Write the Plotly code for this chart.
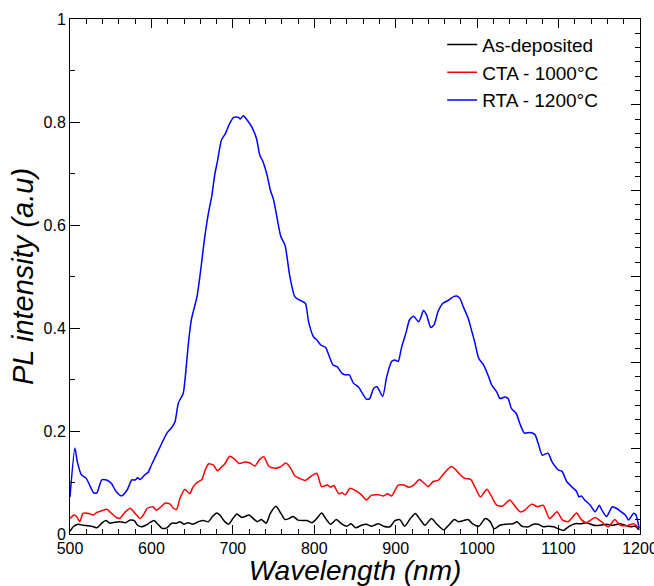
import plotly.graph_objects as go

# RTA - 1200°C (blue)
rta_wl = [500, 506, 509, 514, 520, 529, 533, 539, 545, 551, 556, 563, 570, 576, 580, 583, 586, 592, 596, 600,
          610, 619, 625, 629, 633, 639, 642, 645, 649, 656, 660, 665, 670, 674, 678, 681, 686, 691, 696, 701,
          707, 709, 713, 717, 723, 729, 733, 737, 742, 746, 750, 754, 759, 764, 770, 776, 782, 789, 793, 799,
          803, 808, 814, 817, 823, 828, 834, 838, 843, 848, 854, 858, 864, 868, 873, 877, 884, 889, 895, 899,
          903, 907, 913, 917, 922, 928, 931, 934, 938, 943, 947, 952, 958, 965, 971, 975, 979, 983, 989, 993,
          997, 1002, 1008, 1014, 1018, 1024, 1028, 1034, 1038, 1042, 1048, 1053, 1058, 1065, 1071, 1075, 1080,
          1087, 1092, 1100, 1104, 1110, 1116, 1122, 1125, 1128, 1132, 1139, 1145, 1150, 1153, 1159, 1166, 1171,
          1177, 1182, 1186, 1192, 1195, 1199]
rta_val = [0.072, 0.167, 0.140, 0.115, 0.108, 0.080, 0.080, 0.105, 0.105, 0.098, 0.084, 0.074, 0.085, 0.105, 0.105,
           0.109, 0.106, 0.115, 0.120, 0.134, 0.167, 0.196, 0.207, 0.218, 0.254, 0.273, 0.312, 0.364, 0.416, 0.461,
           0.506, 0.571, 0.623, 0.655, 0.700, 0.723, 0.765, 0.778, 0.797, 0.809, 0.809, 0.806, 0.812, 0.805, 0.791,
           0.768, 0.736, 0.723, 0.697, 0.668, 0.649, 0.616, 0.577, 0.561, 0.500, 0.461, 0.454, 0.448, 0.412, 0.383,
           0.377, 0.367, 0.362, 0.351, 0.328, 0.325, 0.312, 0.309, 0.309, 0.293, 0.286, 0.276, 0.262, 0.263, 0.283,
           0.286, 0.267, 0.306, 0.335, 0.338, 0.335, 0.361, 0.393, 0.416, 0.423, 0.412, 0.421, 0.434, 0.425, 0.401,
           0.406, 0.432, 0.448, 0.454, 0.461, 0.462, 0.457, 0.441, 0.419, 0.396, 0.373, 0.341, 0.328, 0.306, 0.289,
           0.276, 0.263, 0.266, 0.263, 0.244, 0.234, 0.212, 0.196, 0.197, 0.193, 0.176, 0.153, 0.157, 0.140, 0.124,
           0.122, 0.102, 0.092, 0.083, 0.072, 0.074, 0.066, 0.056, 0.043, 0.056, 0.047, 0.034, 0.053, 0.050, 0.043,
           0.037, 0.027, 0.040, 0.037, 0.011]

# CTA - 1000°C (red)
cta_wl = [500, 505, 508, 512, 516, 523, 529, 533, 539, 545, 551, 557, 561, 568, 574, 580, 586, 590, 595, 602,
          606, 611, 617, 623, 627, 631, 635, 641, 647, 651, 656, 662, 666, 670, 676, 681, 686, 690, 696, 701,
          708, 715, 721, 727, 733, 738, 744, 750, 758, 765, 771, 776, 782, 789, 795, 803, 809, 816, 820, 824,
          830, 834, 838, 844, 852, 858, 864, 870, 879, 885, 890, 895, 903, 910, 916, 922, 929, 934, 940, 946,
          952, 959, 968, 973, 979, 985, 992, 998, 1004, 1012, 1018, 1024, 1031, 1040, 1047, 1053, 1059, 1067,
          1074, 1081, 1089, 1098, 1105, 1112, 1122, 1128, 1134, 1145, 1151, 1161, 1169, 1175, 1184, 1192, 1199]
cta_val = [0.030, 0.037, 0.034, 0.024, 0.040, 0.040, 0.037, 0.042, 0.045, 0.048, 0.040, 0.032, 0.030, 0.043, 0.050,
           0.040, 0.030, 0.037, 0.050, 0.053, 0.046, 0.052, 0.060, 0.058, 0.050, 0.048, 0.069, 0.087, 0.078, 0.091,
           0.100, 0.106, 0.124, 0.136, 0.134, 0.123, 0.130, 0.136, 0.151, 0.147, 0.137, 0.140, 0.138, 0.132, 0.145,
           0.150, 0.132, 0.128, 0.130, 0.138, 0.128, 0.113, 0.108, 0.104, 0.111, 0.118, 0.092, 0.095, 0.091, 0.094,
           0.078, 0.080, 0.076, 0.089, 0.083, 0.076, 0.066, 0.075, 0.076, 0.074, 0.078, 0.074, 0.095, 0.095, 0.091,
           0.095, 0.106, 0.100, 0.092, 0.102, 0.104, 0.117, 0.131, 0.126, 0.115, 0.108, 0.106, 0.089, 0.072, 0.087,
           0.072, 0.056, 0.054, 0.066, 0.053, 0.043, 0.047, 0.058, 0.053, 0.056, 0.030, 0.043, 0.027, 0.024, 0.041,
           0.028, 0.022, 0.032, 0.026, 0.014, 0.028, 0.018, 0.016, 0.020, 0.011]

# As-deposited (black)
asd_wl = [500, 504, 510, 516, 522, 529, 533, 539, 544, 549, 555, 561, 568, 574, 579, 583, 588, 593, 598, 603,
          608, 613, 619, 625, 631, 635, 640, 645, 651, 658, 664, 670, 675, 680, 684, 690, 695, 700, 705, 711,
          715, 720, 725, 730, 735, 741, 746, 753, 759, 764, 769, 774, 780, 787, 791, 797, 803, 809, 814, 820,
          827, 834, 840, 845, 851, 858, 864, 870, 879, 885, 893, 899, 905, 911, 918, 924, 930, 936, 944, 950,
          959, 965, 972, 977, 983, 989, 995, 1002, 1010, 1016, 1021, 1028, 1036, 1044, 1049, 1055, 1063, 1069,
          1075, 1081, 1087, 1094, 1100, 1106, 1113, 1120, 1128, 1134, 1143, 1151, 1159, 1167, 1175, 1182, 1188,
          1194, 1199]
asd_val = [0.005, 0.014, 0.019, 0.017, 0.016, 0.014, 0.012, 0.021, 0.026, 0.021, 0.023, 0.024, 0.022, 0.027, 0.026,
           0.017, 0.014, 0.017, 0.022, 0.026, 0.019, 0.011, 0.012, 0.021, 0.021, 0.024, 0.019, 0.022, 0.019, 0.024,
           0.026, 0.024, 0.034, 0.041, 0.037, 0.024, 0.019, 0.030, 0.039, 0.032, 0.034, 0.037, 0.030, 0.024, 0.028,
           0.021, 0.040, 0.054, 0.040, 0.028, 0.030, 0.034, 0.027, 0.026, 0.026, 0.022, 0.030, 0.041, 0.030, 0.019,
           0.028, 0.019, 0.015, 0.020, 0.012, 0.017, 0.019, 0.015, 0.020, 0.015, 0.014, 0.026, 0.028, 0.015, 0.030,
           0.040, 0.028, 0.017, 0.030, 0.020, 0.008, 0.017, 0.028, 0.024, 0.026, 0.028, 0.019, 0.015, 0.030, 0.024,
           0.010, 0.017, 0.019, 0.020, 0.024, 0.015, 0.014, 0.019, 0.019, 0.014, 0.015, 0.014, 0.010, 0.007, 0.015,
           0.020, 0.020, 0.022, 0.017, 0.017, 0.019, 0.017, 0.020, 0.017, 0.014, 0.015, 0.008]

x_ticks = [500, 600, 700, 800, 900, 1000, 1100, 1200]
y_ticks = [0, 0.2, 0.4, 0.6, 0.8, 1]
y_tick_text = ["0", "0.2", "0.4", "0.6", "0.8", "1"]

series = [
    ("As-deposited", asd_wl, asd_val, "#000000"),
    ("CTA - 1000°C", cta_wl, cta_val, "#ff0000"),
    ("RTA - 1200°C", rta_wl, rta_val, "#0000ff"),
]

FONT = "Liberation Sans, Arial, Helvetica, sans-serif"

fig = go.Figure()
for name, wl, val, col in series:
    fig.add_trace(go.Scatter(x=wl, y=val, mode="lines", name=name,
                             line=dict(color=col, width=1.5, shape="spline", smoothing=0.6)))

# invisible trace for right-side tick axis
fig.add_trace(go.Scatter(x=[500], y=[0], yaxis="y2", mode="lines", showlegend=False,
                         hoverinfo="skip", line=dict(color="rgba(0,0,0,0)")))

fig.update_layout(
    width=654, height=586,
    margin=dict(l=70, r=14, t=19, b=52, autoexpand=False),
    paper_bgcolor="white", plot_bgcolor="white",
    font=dict(family=FONT, color="black", size=16),
    showlegend=True,
    legend=dict(x=0.653, y=0.987, xanchor="left", yanchor="top",
                bgcolor="rgba(0,0,0,0)", font=dict(size=19, family=FONT),
                tracegroupgap=0, itemwidth=30),
    xaxis=dict(range=[500, 1200], tickmode="array", tickvals=x_ticks, automargin=False,
               ticktext=[str(v) for v in x_ticks], ticklabeloverflow="allow",
               ticks="inside", ticklen=9, tickwidth=1, tickcolor="black",
               minor=dict(dtick=20, tick0=500, ticks="inside", ticklen=5, tickcolor="black", showgrid=False),
               showline=True, linecolor="black", linewidth=1, mirror="ticks",
               showgrid=False, zeroline=False, ticklabelstandoff=0,
               tickfont=dict(size=16, family=FONT),
               title=dict(text="<i>Wavelength (nm)</i>", font=dict(size=28, family=FONT), standoff=4)),
    yaxis=dict(range=[0, 1], tickmode="array", tickvals=y_ticks, ticktext=y_tick_text, automargin=False,
               ticklabeloverflow="allow",
               ticks="inside", ticklen=10, tickwidth=1, tickcolor="black",
               minor=dict(dtick=0.1, tick0=0, ticks="inside", ticklen=5, tickcolor="black", showgrid=False),
               showline=True, linecolor="black", linewidth=1, mirror=False,
               showgrid=False, zeroline=False,
               tickfont=dict(size=16, family=FONT),
               title=dict(text="<i>PL intensity (a.u)</i>", font=dict(size=29, family=FONT), standoff=1)),
    yaxis2=dict(range=[0, 6], overlaying="y", side="right", tickmode="linear", tick0=0, dtick=1,
                ticks="inside", ticklen=9, tickwidth=1, tickcolor="black", automargin=False,
                minor=dict(dtick=1/6, tick0=0, ticks="inside", ticklen=5, tickcolor="black", showgrid=False),
                showline=True, linecolor="black", linewidth=1,
                showticklabels=False, showgrid=False, zeroline=False),
)

fig.write_html("out.html")
